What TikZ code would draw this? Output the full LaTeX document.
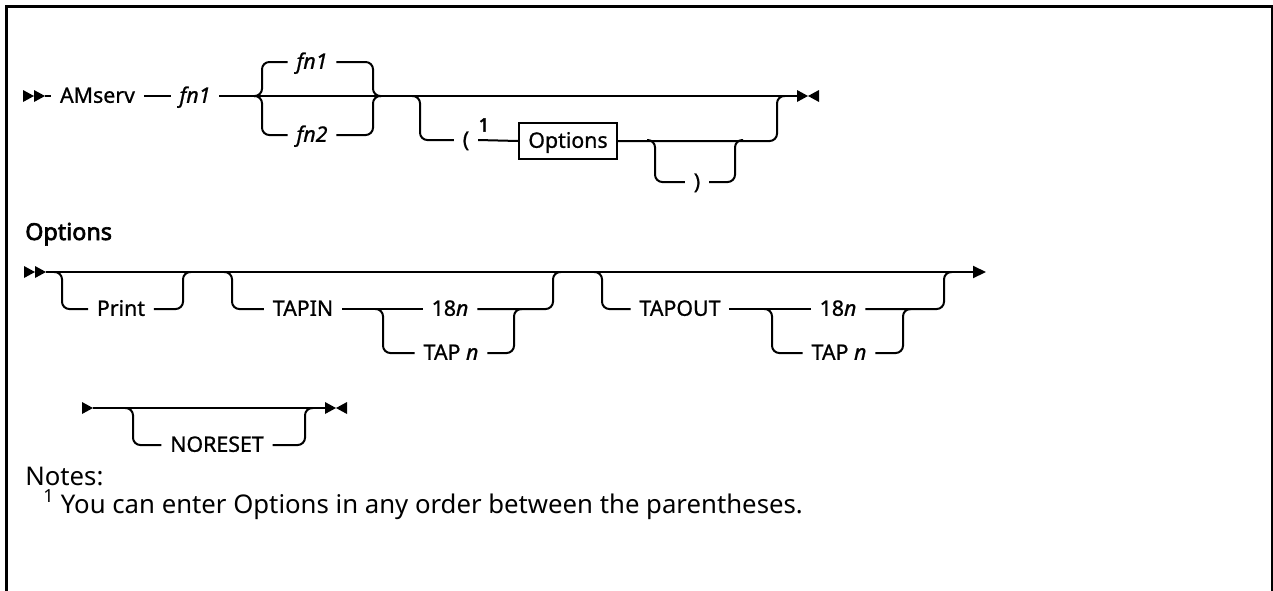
\documentclass[tikz,border=0pt]{standalone}
\usepackage{fontspec}
\setmainfont{Noto Sans}
\newfontfamily\labelfont{Noto Sans}[FakeBold=0.9]
\newfontfamily\headfont{Noto Sans}[FakeBold=2.8]
\usetikzlibrary{arrows.meta}
\usetikzlibrary{positioning}

\tikzset{
  rail/.style={line width=1.5pt},
  rc/.style={rail, rounded corners=5.5pt},
  lbl/.style={inner xsep=6.5pt, inner ysep=0pt, text height=11.5pt, text depth=1.3pt,
    font=\labelfont\fontsize{16}{19}\selectfont},
  refbox/.style={lbl, draw, line width=1.2pt, inner xsep=7pt, inner ysep=7pt},
  heading/.style={anchor=base west, inner sep=0pt, font=\headfont\fontsize{17.5}{20}\selectfont},
  notetext/.style={anchor=base west, inner sep=0pt, font=\fontsize{19.3}{22}\selectfont},
}

\begin{document}
\begin{tikzpicture}[x=0.75pt,y=-0.75pt]
\useasboundingbox (0,0) rectangle (1273,590);
% frame
\draw[line width=2.25pt] (6.5,592) -- (6.5,6.5) -- (1273,6.5);
\draw[line width=1.5pt] (1272.3,6.5) -- (1272.3,592);

% main syntax line
\coordinate (s1) at (45,96);
\coordinate (e1) at (797,96);
\node[lbl] (amserv) at (97.5,96) {AMserv};
\node[lbl] (fnin) at (195,96) {\itshape fn1};
\node[lbl] (fnone) at (312,62) {\itshape fn1};
\node[lbl] (fntwo) at (312,135) {\itshape fn2};
\node[lbl] (lparen) at (466,140) {(};
\node[inner sep=0pt, font=\headfont\fontsize{14}{16}\selectfont] (fnref) at (484,125) {1};
\node[refbox] (optref) at (568,141) {Options};
\node[lbl] (rparen) at (697,182) {)};
\coordinate (c1) at (254,96);
\coordinate (c2) at (381,96);
\coordinate (c3) at (412,96);
\coordinate (c4) at (785,96);
\coordinate (c5) at (647,140);
\coordinate (c6) at (743,140);

\fill (s1) -- ++(-11,6) -- ++(0,-12) -- cycle;
\fill ([xshift=-8.25pt]s1) -- ++(-11,6) -- ++(0,-12) -- cycle;
\draw[rail] (s1) -- (amserv.west);
\draw[rail] (amserv.east) -- (fnin.west);
\draw[rail] (fnin.east) -- (e1);
\draw[rc] (c1) -- ([xshift=6pt]c1) |- (fnone.west);
\draw[rc] (c1) -- ([xshift=6pt]c1) |- (fntwo.west);
\draw[rc] (fnone.east) -| ([xshift=-6pt]c2) -- (c2);
\draw[rc] (fntwo.east) -| ([xshift=-6pt]c2) -- (c2);
\draw[rc] (c3) -- ([xshift=6pt]c3) |- (lparen.west);
\draw[rail] (lparen.east) -- (optref.west);
\draw[rc] (optref.east) -| ([xshift=-6pt]c4) -- (c4);
\draw[rc] (c5) -- ([xshift=6pt]c5) |- (rparen.west);
\draw[rc] (rparen.east) -| ([xshift=-6pt]c6) -- (c6);
\fill (e1) -- ++(0,6) -- ++(11,-6) -- ++(11,6) -- ++(0,-12) -- ++(-11,6) -- ++(-11,-6) -- cycle;

% Options fragment
\node[heading] (opthead) at (25,240) {Options};

\coordinate (s2) at (46,272);
\coordinate (e2) at (986,272);
\node[lbl] (print) at (121,309) {Print};
\node[lbl] (tapin) at (303,309) {TAPIN};
\node[lbl] (inblk) at (450,309) {18\textit{n}};
\node[lbl] (intap) at (451,353) {TAP \textit{n}};
\node[lbl] (tapout) at (680,309) {TAPOUT};
\node[lbl] (outblk) at (838,309) {18\textit{n}};
\node[lbl] (outtap) at (839,353) {TAP \textit{n}};
\coordinate (p1) at (54,272);
\coordinate (p2) at (191,272);
\coordinate (t1) at (224,272);
\coordinate (t2) at (375,309);
\coordinate (t3) at (522,309);
\coordinate (t4) at (561,272);
\coordinate (u1) at (594,272);
\coordinate (u2) at (764,309);
\coordinate (u3) at (911,309);
\coordinate (u4) at (952,272);

\fill (s2) -- ++(-11,6) -- ++(0,-12) -- cycle;
\fill ([xshift=-8.25pt]s2) -- ++(-11,6) -- ++(0,-12) -- cycle;
\draw[rail, -{Triangle[length=9.75pt, width=9pt]}] (s2) -- (e2);
\draw[rc] (p1) -- ([xshift=6pt]p1) |- (print.west);
\draw[rc] (print.east) -| ([xshift=-6pt]p2) -- (p2);
\draw[rc] (t1) -- ([xshift=6pt]t1) |- (tapin.west);
\draw[rail] (tapin.east) -- (inblk.west);
\draw[rc] (t2) -- ([xshift=6pt]t2) |- (intap.west);
\draw[rc] (intap.east) -| ([xshift=-6pt]t3) -- (t3);
\draw[rc] (inblk.east) -| ([xshift=-6pt]t4) -- (t4);
\draw[rc] (u1) -- ([xshift=6pt]u1) |- (tapout.west);
\draw[rail] (tapout.east) -- (outblk.west);
\draw[rc] (u2) -- ([xshift=6pt]u2) |- (outtap.west);
\draw[rc] (outtap.east) -| ([xshift=-6pt]u3) -- (u3);
\draw[rc] (outblk.east) -| ([xshift=-6pt]u4) -- (u4);

% continuation line
\coordinate (s3) at (93,408);
\coordinate (e3) at (325,408);
\node[lbl] (noreset) at (217,445) {NORESET};
\coordinate (r1) at (125,408);
\coordinate (r2) at (313,408);
\fill (s3) -- ++(-11,6) -- ++(0,-12) -- cycle;
\draw[rail] (s3) -- (e3);
\draw[rc] (r1) -- ([xshift=6pt]r1) |- (noreset.west);
\draw[rc] (noreset.east) -| ([xshift=-6pt]r2) -- (r2);
\fill (e3) -- ++(0,6) -- ++(11,-6) -- ++(11,6) -- ++(0,-12) -- ++(-11,6) -- ++(-11,-6) -- cycle;

% notes
\node[notetext] (notes) at (25,485) {Notes:};
\node[notetext] (note1) at (43,513) {\textsuperscript{1} You can enter Options in any order between the parentheses.};
\end{tikzpicture}
\end{document}
